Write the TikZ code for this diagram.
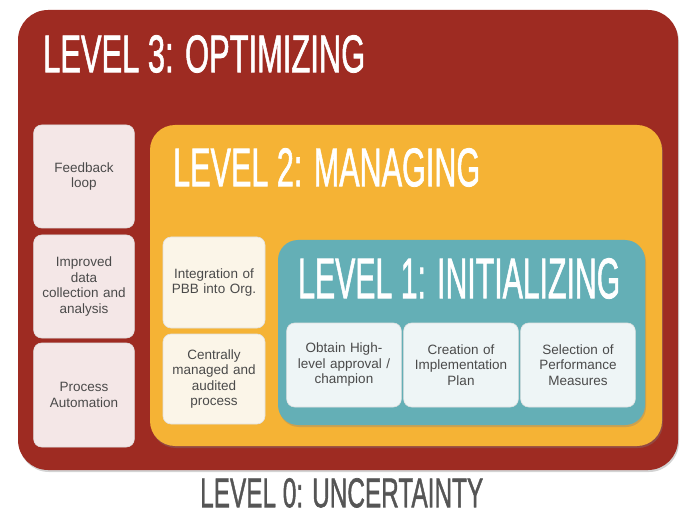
\documentclass[tikz,border=0pt]{standalone}
\usepackage{fontspec}
\setmainfont{Liberation Sans}
\newfontfamily\headfont[FakeBold=1.6]{Liberation Sans}
\usetikzlibrary{shadows}

\definecolor{lvlred}{HTML}{9E2B22}
\definecolor{lvlorange}{HTML}{F5B335}
\definecolor{lvlteal}{HTML}{64AFB6}
\definecolor{pinkbox}{HTML}{F4E7E7}
\definecolor{creambox}{HTML}{FBF5E8}
\definecolor{icebox}{HTML}{EEF5F6}
\definecolor{boxtext}{HTML}{4A4A4A}
\definecolor{zerotext}{HTML}{555555}

% squeezed headline, width x cap height
\newcommand{\lvltitle}[3]{\resizebox{#1pt}{#2pt}{\headfont #3}}

\begin{document}
\begin{tikzpicture}[x=1pt, y=-1pt,
  panel/.style={draw=none, minimum width=#1},
  shade/.style={drop shadow={opacity=0.35, shadow xshift=1pt, shadow yshift=-2pt}},
  title/.style={inner sep=0pt, anchor=north west, text=white},
  item/.style={rounded corners=8pt, draw=black!12, line width=0.6pt,
    minimum width=98pt, text width=94pt, align=center, text=boxtext,
    font=\fontsize{13.5}{15.5}\selectfont},
]
\useasboundingbox (0,0) rectangle (683,513);

% level 3
\node[panel=660pt, minimum height=460pt, rounded corners=30pt, fill=lvlred, shade] (l3) at (348,240) {};
\node[title] (t3) at (43,35) {\lvltitle{322}{37}{LEVEL 3: OPTIMIZING}};

\node[item, fill=pinkbox, minimum height=103pt] (fb) at (84,176.5) {Feedback\\loop};
\node[item, fill=pinkbox, minimum height=103pt] (da) at (84,286.5) {Improved\\data\\collection and\\analysis};
\node[item, fill=pinkbox, minimum height=104pt] (pa) at (84,395) {Process\\Automation};

% level 2
\node[panel=512pt, minimum height=321pt, rounded corners=25pt, fill=lvlorange, shade] (l2) at (406,285.5) {};
\node[title] (t2) at (173,148) {\lvltitle{307}{38}{LEVEL 2: MANAGING}};

\node[item, fill=creambox, minimum width=102pt, minimum height=91pt] (pbb) at (214,282.5) {Integration of\\PBB into Org.};
\node[item, fill=creambox, minimum width=102pt, minimum height=90pt] (cm) at (214,379) {Centrally\\managed and\\audited\\process};

% level 1
\node[panel=367pt, minimum height=185pt, rounded corners=20pt, fill=lvlteal, shade] (l1) at (461.5,332.5) {};
\node[title] (t1) at (298,258) {\lvltitle{322}{40}{LEVEL 1: INITIALIZING}};

\node[item, fill=icebox, minimum width=112pt, text width=108pt, minimum height=84pt] (hl) at (344,365) {Obtain High-\\level approval /\\champion};
\node[item, fill=icebox, minimum width=112pt, text width=108pt, minimum height=84pt] (ip) at (461,365) {Creation of\\Implementation\\Plan};
\node[item, fill=icebox, minimum width=112pt, text width=108pt, minimum height=84pt] (pm) at (578,365) {Selection of\\Performance\\Measures};

% level 0
\node[title, text=zerotext] (t0) at (200,478) {\lvltitle{283}{29}{LEVEL 0: UNCERTAINTY}};

\end{tikzpicture}
\end{document}
